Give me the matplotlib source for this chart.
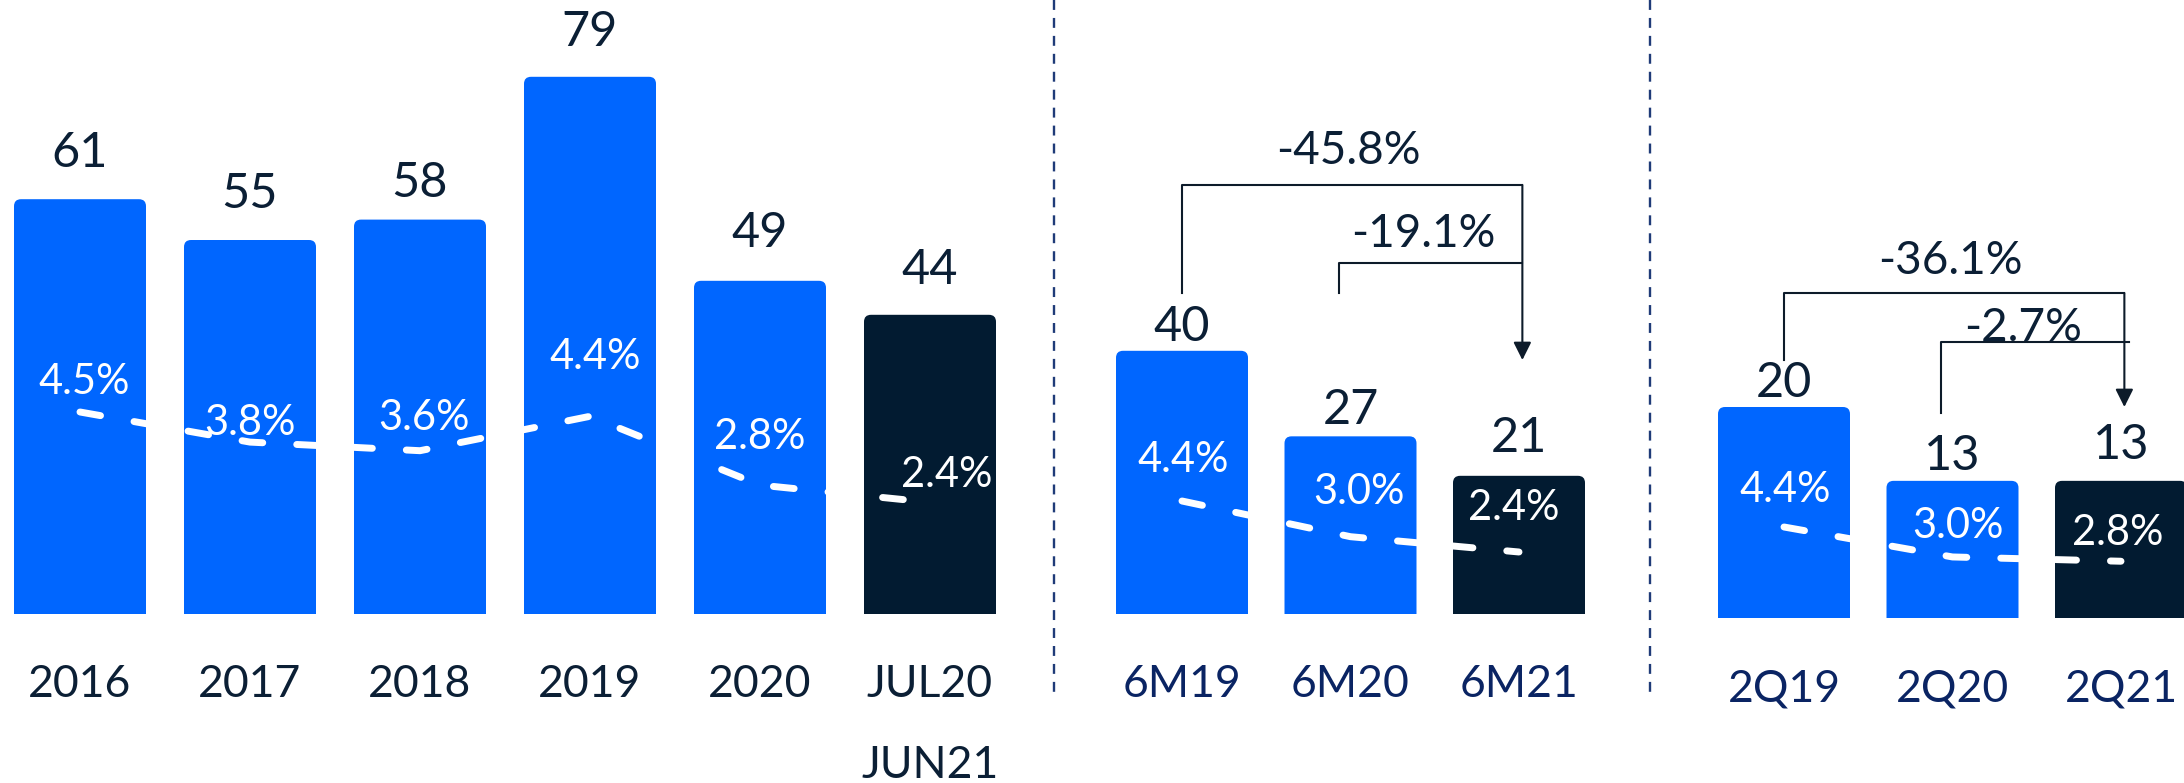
import matplotlib
matplotlib.use('Agg')
import matplotlib.pyplot as plt
from matplotlib.lines import Line2D
from matplotlib.patches import FancyBboxPatch

plt.rcParams['font.family'] = ['Lato', 'DejaVu Sans']

# data
years = ['2016', '2017', '2018', '2019', '2020', 'JUL20\nJUN21']
years_val = [61, 55, 58, 79, 49, 44]
years_pct = [4.5, 3.8, 3.6, 4.4, 2.8, 2.4]

half = ['6M19', '6M20', '6M21']
half_val = [40, 27, 21]
half_pct = [4.4, 3.0, 2.4]
half_chg = ['-45.8%', '-19.1%']

quarter = ['2Q19', '2Q20', '2Q21']
quarter_val = [20, 13, 13]
quarter_pct = [4.4, 3.0, 2.8]
quarter_chg = ['-36.1%', '-2.7%']

BLUE = '#0066FF'
DARK = '#021B31'
TXT = '#0B1F35'
NAVY = '#0A2463'

W, H = 2184, 783
fig = plt.figure(figsize=(W / 100, H / 100), dpi=100)


def group(left, right, base, c0, step, vals, pct, cats, kval, pct_ref, catcol,
          gaps, pct_off, pad):
    # axes placed in pixel terms, x = bar index, y = value
    ax = fig.add_axes([left / W, (H - base) / H, (right - left) / W, base / H])
    ax.set_xlim((left - c0) / step, (right - c0) / step)
    ax.set_ylim(0, base / kval)
    n = len(vals)
    cols = [BLUE] * (n - 1) + [DARK]
    x = list(range(n))
    bars = ax.bar(x, vals, width=132 / step, color=cols, zorder=2)
    # small rounded top corners (bottom ones fall below the axes and get clipped)
    r = 7 / step
    for b in bars:
        b.set_visible(False)
        ax.add_patch(FancyBboxPatch((b.get_x(), -r * step / kval), b.get_width(),
                                    b.get_height() + r * step / kval,
                                    boxstyle=f'round,pad=0,rounding_size={r}',
                                    mutation_aspect=step / kval,
                                    fc=b.get_facecolor(), ec='none', zorder=2))
    for i, v in enumerate(vals):
        ax.annotate(str(v), (i, v), xytext=(0, gaps[i]), textcoords='offset points',
                    ha='center', va='baseline', fontsize=35, color=TXT)
    ax.set_xticks(x, cats)
    ax.tick_params(axis='x', length=0, pad=pad, labelsize=32, labelcolor=catcol)
    for t in ax.get_xticklabels():
        t.set_linespacing(2.2)
    ax.set_yticks([])
    for s in ax.spines.values():
        s.set_visible(False)
    ax.patch.set_alpha(0)

    # percent line on its own scale
    y0, p0, m = pct_ref
    ax2 = ax.twinx()
    ax2.set_ylim(p0 - (base - y0) / m, p0 + y0 / m)
    ax2.plot(x, pct, color='white', lw=5, dashes=(3.0, 4.9),
             dash_capstyle='round', solid_capstyle='round')
    for i, p in enumerate(pct):
        dx, dy = pct_off[i]
        ax2.annotate(f'{p:.1f}%', (i, p), xytext=(dx, dy), textcoords='offset points',
                     ha='center', va='center_baseline', fontsize=30, color='white')
    ax2.set_yticks([])
    ax2.axis('off')
    return ax


g1 = group(0, 1040, 614, 80, 170, years_val, years_pct, years, 6.8, (412, 4.5, 43),
           TXT, [23, 23, 16, 22, 24, 22],
           [(3, 24), (0, 16), (3, 26), (4, 45), (0, 37), (12, 22)], 36)
g2 = group(1060, 1640, 614, 1182, 168.5, half_val, half_pct, half, 6.58, (501, 4.4, 25.5),
           NAVY, [7, 9, 17], [(1, 32), (6, 35), (-4, 34)], 36)
g3 = group(1660, 2184, 618, 1784, 168.5, quarter_val, quarter_pct, quarter, 10.55, (527, 4.4, 21.4),
           NAVY, [7, 8, 16], [(1, 29.5), (4, 25), (-2, 23)], 36)

LC = '#0D1B2A'


def bracket(ax, xl, ylow, ytop, xr, ytip, label, lx, ldy):
    ax.plot([xl, xl, xr], [ylow, ytop, ytop], color=LC, lw=1.5, zorder=3)
    if ytip is not None:
        ax.annotate('', xy=(xr, ytip), xytext=(xr, ytop),
                    arrowprops=dict(arrowstyle='-|>', color=LC, lw=1.5,
                                    mutation_scale=27, shrinkA=0, shrinkB=0))
    ax.annotate(label, (lx, ytop), xytext=(0, ldy), textcoords='offset points',
                ha='center', va='center_baseline', fontsize=33, color=TXT)


bracket(g2, 0, 48.8, 65.2, 2.02, 38.6, half_chg[0], 0.985, 27)
bracket(g2, 0.93, 48.8, 53.3, 2.02, None, half_chg[1], 1.43, 24)
bracket(g3, 0, 24.5, 30.8, 2.02, 20.0, quarter_chg[0], 0.985, 26)
bracket(g3, 0.93, 19.4, 26.2, 2.05, None, quarter_chg[1], 1.42, 13)

# dashed separators between the groups
for xs in (1054, 1650):
    fig.add_artist(Line2D([xs / W, xs / W], [1, (H - 692) / H], transform=fig.transFigure,
                          color='#1F3B78', lw=1.7, dashes=(4.2, 3.4)))

fig.savefig('out.png', dpi=100)
